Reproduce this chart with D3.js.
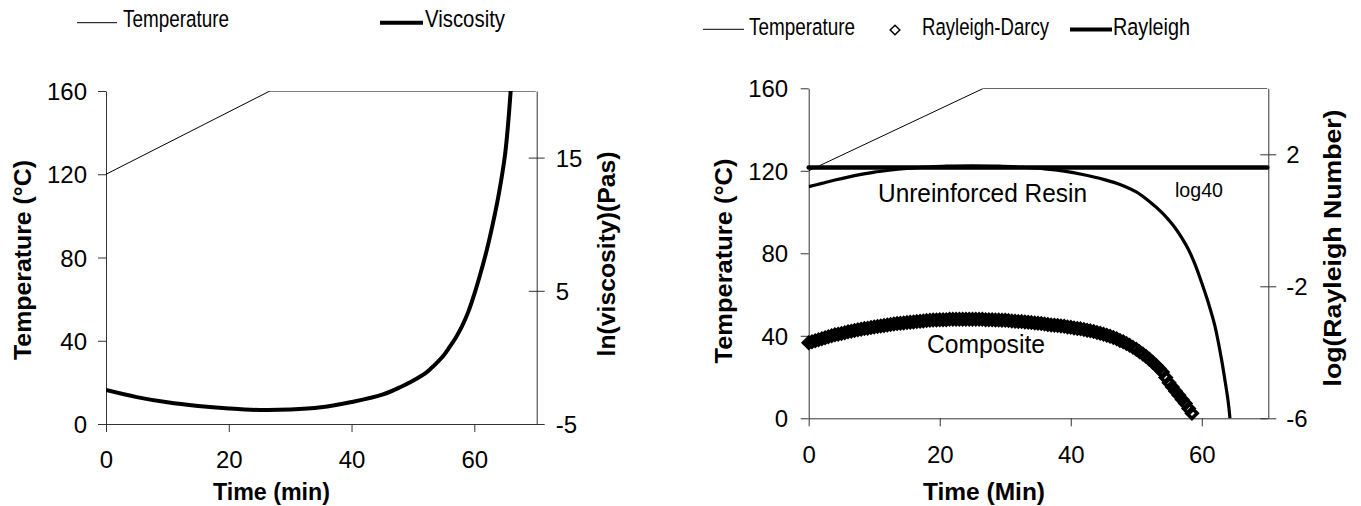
<!DOCTYPE html>
<html>
<head>
<meta charset="utf-8">
<script src="https://cdn.jsdelivr.net/npm/d3@7"></script>
<style>
  html, body { margin: 0; background: #fff; }
  svg { display: block; font-family: "Liberation Sans", Arial, sans-serif; }
</style>
</head>
<body>
<svg id="chart" width="1361" height="506"></svg>
<script>
// ---- data ----
const timeTicks = [0, 20, 40, 60];
const tempTicks = [0, 40, 80, 120, 160];
const viscTicks = [-5, 5, 15];
const rayTicks = [-6, -2, 2];

// cure cycle: 1.5 C/min ramp then hold
const tempTime = [0, 26.7, 70];
const tempValue = [120, 160, 160];

// ln(viscosity) (Pa s)
const viscTime = [0, 5, 10, 15, 20, 25, 30, 35, 40, 45, 48, 50, 52, 53, 54, 55, 56, 57, 58, 59, 60, 61, 62, 63, 64, 65, 65.5, 66];
const viscValue = [-2.45, -2.98, -3.37, -3.64, -3.83, -3.95, -3.92, -3.75, -3.35, -2.8, -2.22, -1.75, -1.2, -0.8, -0.35, 0.15, 0.8, 1.5, 2.35, 3.4, 4.75, 6.3, 8.0, 10.0, 12.3, 15.2, 17.5, 20.5];

// log Rayleigh number, unreinforced resin
const resinTime = [0, 2, 4, 6, 8, 10, 12, 15, 18, 21, 25, 29, 33, 36, 39, 42, 45, 48, 50, 52, 54, 55, 56, 57, 58, 59, 60, 61, 62, 63, 63.5, 64, 64.3];
const resinValue = [1.02, 1.12, 1.22, 1.31, 1.39, 1.46, 1.51, 1.57, 1.61, 1.64, 1.65, 1.64, 1.6, 1.56, 1.49, 1.38, 1.24, 1.05, 0.86, 0.57, 0.22, 0.0, -0.25, -0.55, -0.9, -1.35, -1.9, -2.5, -3.2, -4.2, -4.8, -5.45, -6.0];

// critical value log40
const log40Time = [0, 70];
const log40Value = [1.602, 1.602];

// log Rayleigh-Darcy number, composite, sampled every 0.5 min
const compositeValue = [
  -3.71, -3.68, -3.65, -3.62, -3.59, -3.56, -3.53, -3.50, -3.47, -3.45,
  -3.43, -3.41, -3.38, -3.36, -3.34, -3.32, -3.30, -3.28, -3.27, -3.25,
  -3.23, -3.22, -3.20, -3.19, -3.17, -3.16, -3.14, -3.13, -3.12, -3.11,
  -3.10, -3.09, -3.08, -3.07, -3.06, -3.05, -3.04, -3.03, -3.02, -3.02,
  -3.01, -3.01, -3.01, -3.00, -3.00, -3.00, -3.00, -3.00, -3.00, -3.00,
  -3.00, -3.00, -3.00, -3.00, -3.01, -3.01, -3.01, -3.02, -3.02, -3.03,
  -3.03, -3.04, -3.05, -3.06, -3.07, -3.07, -3.08, -3.09, -3.10, -3.11,
  -3.12, -3.13, -3.14, -3.16, -3.17, -3.18, -3.19, -3.20, -3.21, -3.23,
  -3.24, -3.26, -3.28, -3.29, -3.31, -3.33, -3.35, -3.37, -3.40, -3.42,
  -3.45, -3.48, -3.51, -3.55, -3.59, -3.64, -3.68, -3.73, -3.79, -3.85,
  -3.91, -3.98, -4.05, -4.13, -4.21, -4.30, -4.39, -4.49, -4.60, -4.76,
  -4.92, -5.05, -5.18, -5.30, -5.43, -5.55, -5.70, -5.85
];
const compositeTime = compositeValue.map((_, i) => i * 0.5);

const zip = (xs, ys) => xs.map((x, i) => [x, ys[i]]);

const svg = d3.select('#chart');
svg.append('rect').attr('width', 1361).attr('height', 506).attr('fill', '#fff');

const AXIS = '#333';

function drawPanel(id, box, rightDomain, rightTicks, rightPad) {
  const x = d3.scaleLinear().domain([0, 70]).range([box.x0, box.x1]);
  const yL = d3.scaleLinear().domain([0, 160]).range([box.y1, box.y0]);
  const yR = d3.scaleLinear().domain(rightDomain).range([box.y1, box.y0]);

  svg.append('clipPath').attr('id', id + '-clip')
    .append('rect').attr('x', box.x0).attr('y', box.y0)
    .attr('width', box.x1 - box.x0 + 1).attr('height', box.y1 - box.y0);

  const styleAxis = (g) => {
    g.attr('font-family', null);
    g.select('.domain').attr('stroke', AXIS);
    g.selectAll('.tick line').attr('stroke', AXIS);
    g.selectAll('.tick text').attr('fill', '#000').attr('font-size', 24);
  };

  svg.append('g').attr('transform', `translate(0,${box.y1})`)
    .call(d3.axisBottom(x).tickValues(timeTicks).tickSize(8).tickSizeOuter(0).tickFormat(d => String(d)))
    .call(styleAxis)
    .call(g => g.selectAll('.tick text').attr('dy', 0).attr('y', box.xLabelDy));

  svg.append('g').attr('transform', `translate(${box.x0},0)`)
    .call(d3.axisLeft(yL).tickValues(tempTicks).tickSize(8).tickSizeOuter(0).tickPadding(box.leftPad).tickFormat(d => String(d)))
    .call(styleAxis)
    .call(g => g.selectAll('.tick text').attr('dy', '0.36em'));

  svg.append('g').attr('transform', `translate(${box.x1 + 1},0)`)
    .call(d3.axisRight(yR).tickValues(rightTicks).tickSize(8).tickSizeOuter(0).tickPadding(rightPad).tickFormat(d => String(d)))
    .call(styleAxis)
    .call(g => g.selectAll('.tick line').attr('x1', -8))
    .call(g => g.selectAll('.tick text').attr('dy', '0.36em'));

  const plot = svg.append('g').attr('clip-path', `url(#${id}-clip)`);
  return { x, yL, yR, plot };
}

// ---------- left panel: temperature + viscosity ----------
const L = drawPanel('left', { x0: 106, x1: 535.7, y0: 91, y1: 424, leftPad: 11, xLabelDy: 44 }, [-5, 20], viscTicks, 11);

L.plot.append('path')
  .datum(zip(tempTime, tempValue))
  .attr('fill', 'none').attr('stroke', '#000').attr('stroke-width', 1)
  .attr('d', d3.line().x(d => L.x(d[0])).y(d => L.yL(d[1])));

L.plot.append('path')
  .datum(zip(viscTime, viscValue))
  .attr('fill', 'none').attr('stroke', '#000').attr('stroke-width', 4)
  .attr('d', d3.line().curve(d3.curveCatmullRom).x(d => L.x(d[0])).y(d => L.yR(d[1])));

// ---------- right panel: temperature + Rayleigh numbers ----------
const R = drawPanel('right', { x0: 808.7, x1: 1267.3, y0: 88.3, y1: 418.3, leftPad: 12.5, xLabelDy: 45 }, [-6, 4], rayTicks, 10);

R.plot.append('path')
  .datum(zip(tempTime, tempValue))
  .attr('fill', 'none').attr('stroke', '#000').attr('stroke-width', 1)
  .attr('d', d3.line().x(d => R.x(d[0])).y(d => R.yL(d[1])));

R.plot.append('path')
  .datum(zip(resinTime, resinValue))
  .attr('fill', 'none').attr('stroke', '#000').attr('stroke-width', 3.2)
  .attr('d', d3.line().curve(d3.curveCatmullRom).x(d => R.x(d[0])).y(d => R.yR(d[1])));

svg.append('path')
  .datum(zip(log40Time, log40Value))
  .attr('fill', 'none').attr('stroke', '#000').attr('stroke-width', 4.5).attr('stroke-linecap', 'round')
  .attr('d', d3.line().x(d => R.x(d[0])).y(d => R.yR(d[1])));

const diamond = (r) => `M0,${-r}L${r},0L0,${r}L${-r},0Z`;

svg.append('g').selectAll('path')
  .data(zip(compositeTime, compositeValue))
  .join('path')
  .attr('transform', d => `translate(${R.x(d[0])},${R.yR(d[1])})`)
  .attr('d', diamond(5.2))
  .attr('fill', 'none').attr('stroke', '#000').attr('stroke-width', 3.6);

// annotations
svg.append('text').attr('x', 878).attr('y', 201.5).attr('font-size', 25.5)
  .attr('textLength', 209).attr('lengthAdjust', 'spacingAndGlyphs').text('Unreinforced Resin');
svg.append('text').attr('x', 927).attr('y', 353.3).attr('font-size', 25.5)
  .attr('textLength', 118).attr('lengthAdjust', 'spacingAndGlyphs').text('Composite');
svg.append('text').attr('x', 1175).attr('y', 196.7).attr('font-size', 20.5)
  .attr('textLength', 48).attr('lengthAdjust', 'spacingAndGlyphs').text('log40');

// axis titles
const title = (txt, x, y, len, rot) => svg.append('text')
  .attr('transform', `translate(${x},${y})` + (rot ? ' rotate(-90)' : ''))
  .attr('text-anchor', 'middle').attr('font-size', 24).attr('font-weight', 'bold')
  .attr('textLength', len).attr('lengthAdjust', 'spacingAndGlyphs').text(txt);

title('Temperature (°C)', 31, 260, 200, true);
title('ln(viscosity)(Pas)', 615, 254, 205, true);
title('Time (min)', 271.5, 500, 117, false);
title('Temperature (°C)', 731.5, 261, 205, true);
title('log(Rayleigh Number)', 1340.5, 248, 277, true);
title('Time (Min)', 984, 500, 122, false);

// legends
const legText = (txt, x, y, len) => svg.append('text')
  .attr('x', x).attr('y', y).attr('font-size', 24.5)
  .attr('textLength', len).attr('lengthAdjust', 'spacingAndGlyphs').text(txt);
const legLine = (x1, x2, y, w) => svg.append('line')
  .attr('x1', x1).attr('x2', x2).attr('y1', y).attr('y2', y)
  .attr('stroke', '#000').attr('stroke-width', w);

legLine(77, 117, 22.7, 1);
legText('Temperature', 123, 27, 106);
legLine(380, 423, 22.7, 4);
legText('Viscosity', 425, 27.3, 80);

legLine(703, 744, 29.3, 1);
legText('Temperature', 749, 35, 106);
svg.append('path').attr('transform', 'translate(895,30)').attr('d', diamond(4.8))
  .attr('fill', 'none').attr('stroke', '#000').attr('stroke-width', 1.5);
legText('Rayleigh-Darcy', 922, 35, 127);
legLine(1070, 1112, 29.5, 4);
legText('Rayleigh', 1113, 35, 77);
</script>
</body>
</html>
